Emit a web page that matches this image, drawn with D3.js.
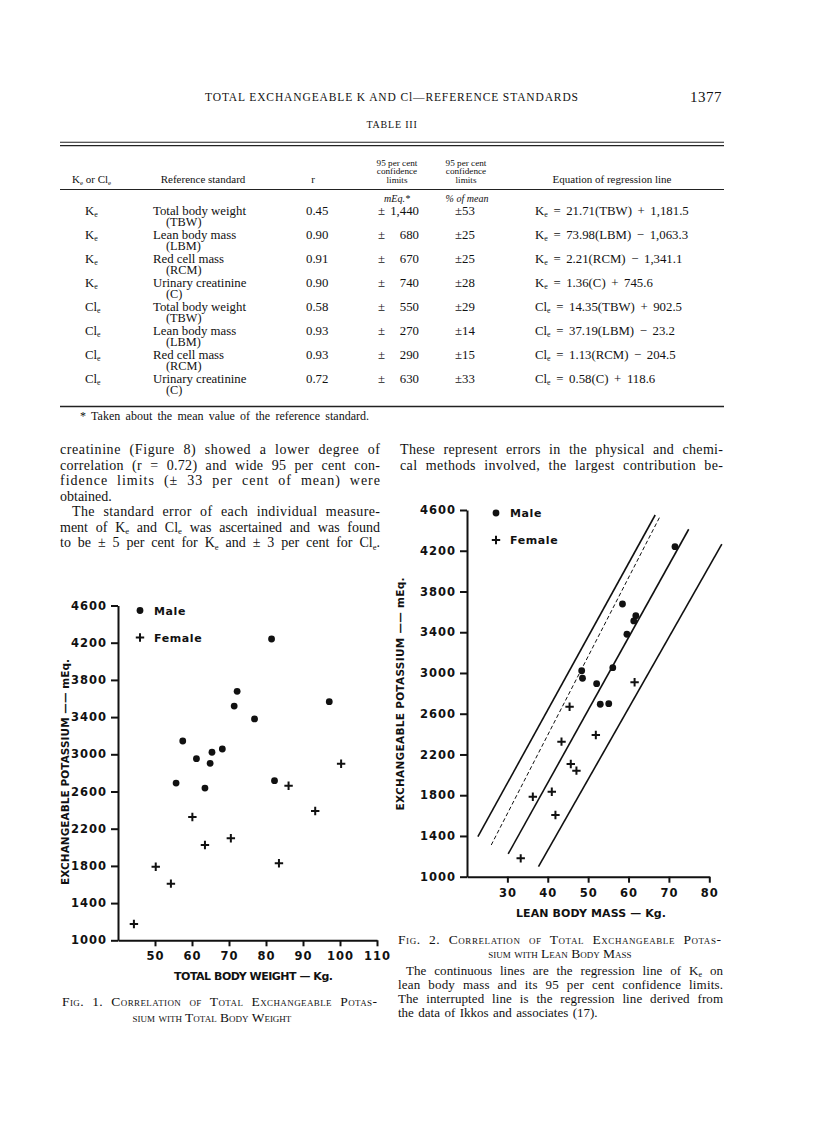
<!DOCTYPE html>
<html><head><meta charset="utf-8">
<script src="https://cdn.jsdelivr.net/npm/d3@7"></script>
<style>
html,body{margin:0;padding:0;background:#fff;}
svg{display:block;}
</style></head>
<body>
<script>
// ---------- DATA ----------
const fig1MaleTBW = [81.5,72.2,71.4,76.9,97.1,57.5,61.2,65.4,64.9,68.2,55.7,63.5,82.3];
const fig1MaleK   = [4240,3677,3519,3380,3566,3143,2953,3022,2903,3057,2691,2637,2716];
const fig1FemaleTBW = [100.3,86.1,93.3,60.1,70.5,63.5,50.2,54.3,44.3,83.5];
const fig1FemaleK   = [2899,2662,2390,2326,2097,2025,1791,1609,1175,1828];

const fig2MaleLBM = [71.5,58.5,61.8,61.3,59.6,56.1,48.4,48.6,52.1,53.0,55.1];
const fig2MaleK   = [4240,3677,3563,3511,3380,3052,3022,2948,2895,2693,2699];
const fig2FemaleLBM = [61.5,45.4,43.4,51.9,45.7,47.1,36.3,41.0,41.9,33.3];
const fig2FemaleK   = [2909,2669,2326,2391,2107,2041,1785,1834,1606,1180];

// regression / confidence lines of fig. 2 (end points)
const fig2LineNames = ['upper95','ikkos','regression','lower95'];
const fig2LineX1 = [22.7, 26.0, 30.2, 37.7];
const fig2LineY1 = [1393, 1311, 1223, 1098];
const fig2LineX2 = [66.6, 67.9, 74.9, 83.1];
const fig2LineY2 = [4551, 4545, 4411, 4264];
const fig2LineDashed = [false, true, false, false];

const yTickValues = [1000,1400,1800,2200,2600,3000,3400,3800,4200,4600];
const fig1XTicks = [50,60,70,80,90,100,110];
const fig2XTicks = [30,40,50,60,70,80];

// Table III
const tblIon = ['K','K','K','K','Cl','Cl','Cl','Cl'];
const tblStandard = ['Total body weight','Lean body mass','Red cell mass','Urinary creatinine','Total body weight','Lean body mass','Red cell mass','Urinary creatinine'];
const tblAbbr = ['TBW','LBM','RCM','C','TBW','LBM','RCM','C'];
const tblR = ['0.45','0.90','0.91','0.90','0.58','0.93','0.93','0.72'];
const tblMEq = ['1,440','680','670','740','550','270','290','630'];
const tblPct = ['53','25','25','28','29','14','15','33'];
const tblSlope = ['21.71','73.98','2.21','1.36','14.35','37.19','1.13','0.58'];
const tblIntercept = ['+ 1,181.5','− 1,063.3','− 1,341.1','+ 745.6','+ 902.5','− 23.2','− 204.5','+ 118.6'];

// ---------- PAGE ----------
const W = 816, H = 1133;
const svg = d3.select('body').append('svg').attr('width', W).attr('height', H);
svg.append('rect').attr('width', W).attr('height', H).attr('fill', '#fff');

const SERIF = '"Liberation Serif","Times New Roman",serif';
const SANS = '"DejaVu Sans","Liberation Sans",sans-serif';

// text with {sub} markup
function txt(g, str, x, y, o = {}) {
  const t = g.append('text').attr('x', x).attr('y', y)
    .attr('font-family', o.family || SERIF)
    .attr('font-size', o.size || 14)
    .attr('fill', '#111');
  if (o.anchor) t.attr('text-anchor', o.anchor);
  if (o.italic) t.attr('font-style', 'italic');
  if (o.weight) t.attr('font-weight', o.weight);
  if (o.caps) t.style('font-variant', 'small-caps');
  if (o.ls != null) t.attr('letter-spacing', o.ls);
  if (o.ws != null) t.attr('word-spacing', o.ws);
  const parts = str.split(/\{(.*?)\}/);
  let shifted = false;
  const sd = o.subDy || 2.5;
  parts.forEach((p, i) => {
    if (p === '') return;
    const s = t.append('tspan').text(p);
    if (i % 2 === 1) { s.attr('font-size', '0.62em').attr('dy', sd); shifted = true; }
    else if (shifted) { s.attr('dy', -sd); shifted = false; }
  });
  if (o.len) justify(t, o.len, str);
  if (o.spread) t.attr('textLength', o.spread).attr('lengthAdjust', 'spacing');
  return t;
}
// justify by word spacing, finishing with a tiny letter-spacing correction
function justify(t, target, str) {
  const spaces = (str.match(/ /g) || []).length;
  const n = t.node().getComputedTextLength();
  if (spaces > 0) {
    let ws = (target - n) / spaces;
    ws = Math.max(-1, Math.min(ws, 4.5));
    t.attr('word-spacing', ws);
  }
  const n2 = t.node().getComputedTextLength();
  if (Math.abs(target - n2) > 0.5) t.attr('textLength', target).attr('lengthAdjust', 'spacing');
}

// header
txt(svg, 'TOTAL EXCHANGEABLE K AND Cl—REFERENCE STANDARDS', 205, 101, {size: 11.5, spread: 373});
txt(svg, '1377', 690, 102, {size: 15, ls: 0.5});
txt(svg, 'TABLE III', 392, 128, {size: 10, anchor: 'middle', ls: 0.8});

// table rules
const rule = (y, w) => svg.append('line').attr('x1', 60).attr('x2', 724).attr('y1', y).attr('y2', y).attr('stroke', '#222').attr('stroke-width', w);
rule(142.3, 1.1); rule(145.6, 1.1); rule(189.5, 1.1); rule(406.5, 1.7);

// table header
const HS = 11;
txt(svg, 'K{e} or Cl{e}', 72, 182.5, {size: HS});
txt(svg, 'Reference standard', 203, 182.5, {size: HS, anchor: 'middle'});
txt(svg, 'r', 313, 182.5, {size: HS, anchor: 'middle'});
['95 per cent', 'confidence', 'limits'].forEach((s, i) => {
  txt(svg, s, 397, 165.5 + i * 8.5, {size: 9.2, anchor: 'middle'});
  txt(svg, s, 466, 165.5 + i * 8.5, {size: 9.2, anchor: 'middle'});
});
txt(svg, 'Equation of regression line', 612, 182.5, {size: HS, anchor: 'middle'});
txt(svg, 'mEq.*', 397, 202, {size: 10, anchor: 'middle', italic: true});
txt(svg, '% of mean', 467, 202, {size: 10, anchor: 'middle', italic: true});

// table rows
const TS = 12.8;
tblIon.forEach((ion, i) => {
  const yc = 214.5 + i * 24;
  txt(svg, ion + '{e}', 85, yc, {size: TS});
  txt(svg, tblStandard[i], 153, yc, {size: TS});
  txt(svg, '(' + tblAbbr[i] + ')', 166, yc + 11, {size: 12.3});
  txt(svg, tblR[i], 306, yc, {size: TS});
  txt(svg, '±', 378, yc, {size: TS});
  txt(svg, tblMEq[i], 419, yc, {size: TS, anchor: 'end'});
  txt(svg, '±' + tblPct[i], 455, yc, {size: TS});
  txt(svg, ion + '{e} = ' + tblSlope[i] + '(' + tblAbbr[i] + ') ' + tblIntercept[i], 535, yc, {size: TS, ws: 2.4});
});
txt(svg, '* Taken about the mean value of the reference standard.', 80, 419.5, {size: 12, len: 289});

// body text
const BS = 14;
const bodyLines = [
  ['creatinine (Figure 8) showed a lower degree of', 60, 454, 320],
  ['correlation (r = 0.72) and wide 95 per cent con-', 60, 469.5, 320],
  ['fidence limits (± 33 per cent of mean) were', 60, 485, 320],
  ['obtained.', 60, 500.5, null],
  ['The standard error of each individual measure-', 72, 516, 308],
  ['ment of K{e} and Cl{e} was ascertained and was found', 60, 531.5, 320],
  ['to be ± 5 per cent for K{e} and ± 3 per cent for Cl{e}.', 60, 547, 320],
  ['These represent errors in the physical and chemi-', 400, 454, 323],
  ['cal methods involved, the largest contribution be-', 400, 469.5, 323]
];
bodyLines.forEach(([s, x, y, l]) => txt(svg, s, x, y, {size: BS, len: l || undefined}));

// captions
txt(svg, 'Fig. 1.  Correlation of Total Exchangeable Potas-', 62, 1006, {size: 13.5, caps: true, len: 315});
txt(svg, 'sium with Total Body Weight', 212, 1022, {size: 13.5, caps: true, anchor: 'middle'});
txt(svg, 'Fig. 2.  Correlation of Total Exchangeable Potas-', 398, 944, {size: 13.5, caps: true, len: 323});
txt(svg, 'sium with Lean Body Mass', 560, 958, {size: 13.5, caps: true, anchor: 'middle'});
txt(svg, 'The continuous lines are the regression line of K{e} on', 406, 975, {size: 13, len: 317, subDy: 2});
txt(svg, 'lean body mass and its 95 per cent confidence limits.', 398, 989, {size: 13, len: 325});
txt(svg, 'The interrupted line is the regression line derived from', 398, 1003, {size: 13, len: 325});
txt(svg, 'the data of Ikkos and associates (17).', 398, 1017, {size: 13, ws: 1.2});

// ---------- CHARTS ----------
function chart(cfg) {
  const g = svg.append('g');
  const x = d3.scaleLinear().domain(cfg.xDomain).range(cfg.xRange);
  const y = d3.scaleLinear().domain([1000, 4600]).range(cfg.yRange);

  const ya = g.append('g').attr('transform', `translate(${cfg.xRange[0]},0)`)
    .call(d3.axisLeft(y).tickValues(yTickValues).tickSize(7).tickSizeOuter(0).tickPadding(4).tickFormat(d3.format('d')));
  const xa = g.append('g').attr('transform', `translate(0,${cfg.yRange[0]})`)
    .call(d3.axisBottom(x).tickValues(cfg.xTicks).tickSize(6).tickSizeOuter(0).tickPadding(6).tickFormat(d3.format('d')));
  [ya, xa].forEach(a => {
    a.select('.domain').attr('stroke', '#111').attr('stroke-width', 2);
    a.selectAll('.tick line').attr('stroke', '#111').attr('stroke-width', 2);
    a.selectAll('.tick text').attr('fill', '#111').attr('font-family', SANS)
      .attr('font-weight', 'bold').attr('font-size', 11.5).attr('letter-spacing', 1);
  });

  if (cfg.lines) {
    cfg.lines.forEach(l => {
      g.append('line').attr('x1', x(l.x1)).attr('y1', y(l.y1)).attr('x2', x(l.x2)).attr('y2', y(l.y2))
        .attr('stroke', '#111').attr('stroke-width', l.dashed ? 1 : 1.6)
        .attr('stroke-dasharray', l.dashed ? '4,2.5' : null);
    });
  }

  g.selectAll('.m').data(cfg.maleX).join('circle')
    .attr('cx', d => x(d)).attr('cy', (d, i) => y(cfg.maleY[i])).attr('r', 3.4).attr('fill', '#111');
  const plus = (sel, px, py) => sel.append('path')
    .attr('d', `M${px-4.2},${py}H${px+4.2}M${px},${py-4.2}V${py+4.2}`)
    .attr('stroke', '#111').attr('stroke-width', 2);
  cfg.femaleX.forEach((d, i) => plus(g, x(d), y(cfg.femaleY[i])));

  // legend
  g.append('circle').attr('cx', cfg.legX).attr('cy', cfg.legY).attr('r', 3.4).attr('fill', '#111');
  plus(g, cfg.legX, cfg.legY + 27);
  txt(g, 'Male', cfg.legX + 14, cfg.legY + 4, {family: SANS, weight: 'bold', size: 11, ls: 0.6});
  txt(g, 'Female', cfg.legX + 14, cfg.legY + 31, {family: SANS, weight: 'bold', size: 11, ls: 0.6});

  // axis titles
  const xl = txt(g, cfg.xLabel, cfg.xLabelX, cfg.xLabelY, {family: SANS, weight: 'bold', size: 11, anchor: 'middle'});
  xl.attr('textLength', cfg.xLabelLen).attr('lengthAdjust', 'spacing');
  const yl = txt(g, 'EXCHANGEABLE  POTASSIUM —— mEq.', 0, 0, {family: SANS, weight: 'bold', size: 10.5, anchor: 'middle'});
  yl.attr('textLength', cfg.yLabelLen).attr('lengthAdjust', 'spacing');
  yl.attr('transform', `translate(${cfg.yLabelX},${cfg.yLabelY}) rotate(-90)`);
}

const mkLines = () => fig2LineNames.map((n, i) => ({
  x1: fig2LineX1[i], y1: fig2LineY1[i], x2: fig2LineX2[i], y2: fig2LineY2[i], dashed: fig2LineDashed[i]
}));

chart({
  xDomain: [40, 110], xRange: [118, 377], yRange: [940.3, 605.5], xTicks: fig1XTicks,
  maleX: fig1MaleTBW, maleY: fig1MaleK, femaleX: fig1FemaleTBW, femaleY: fig1FemaleK,
  legX: 140, legY: 610.5,
  xLabel: 'TOTAL  BODY  WEIGHT — Kg.', xLabelX: 253.5, xLabelY: 980, xLabelLen: 159,
  yLabelX: 69, yLabelY: 772, yLabelLen: 226
});
chart({
  xDomain: [20, 80], xRange: [467, 709.3], yRange: [876.7, 510], xTicks: fig2XTicks,
  maleX: fig2MaleLBM, maleY: fig2MaleK, femaleX: fig2FemaleLBM, femaleY: fig2FemaleK,
  lines: mkLines(),
  legX: 496, legY: 513,
  xLabel: 'LEAN  BODY  MASS — Kg.', xLabelX: 591, xLabelY: 917, xLabelLen: 150,
  yLabelX: 404, yLabelY: 694, yLabelLen: 233
});
</script>
</body></html>
